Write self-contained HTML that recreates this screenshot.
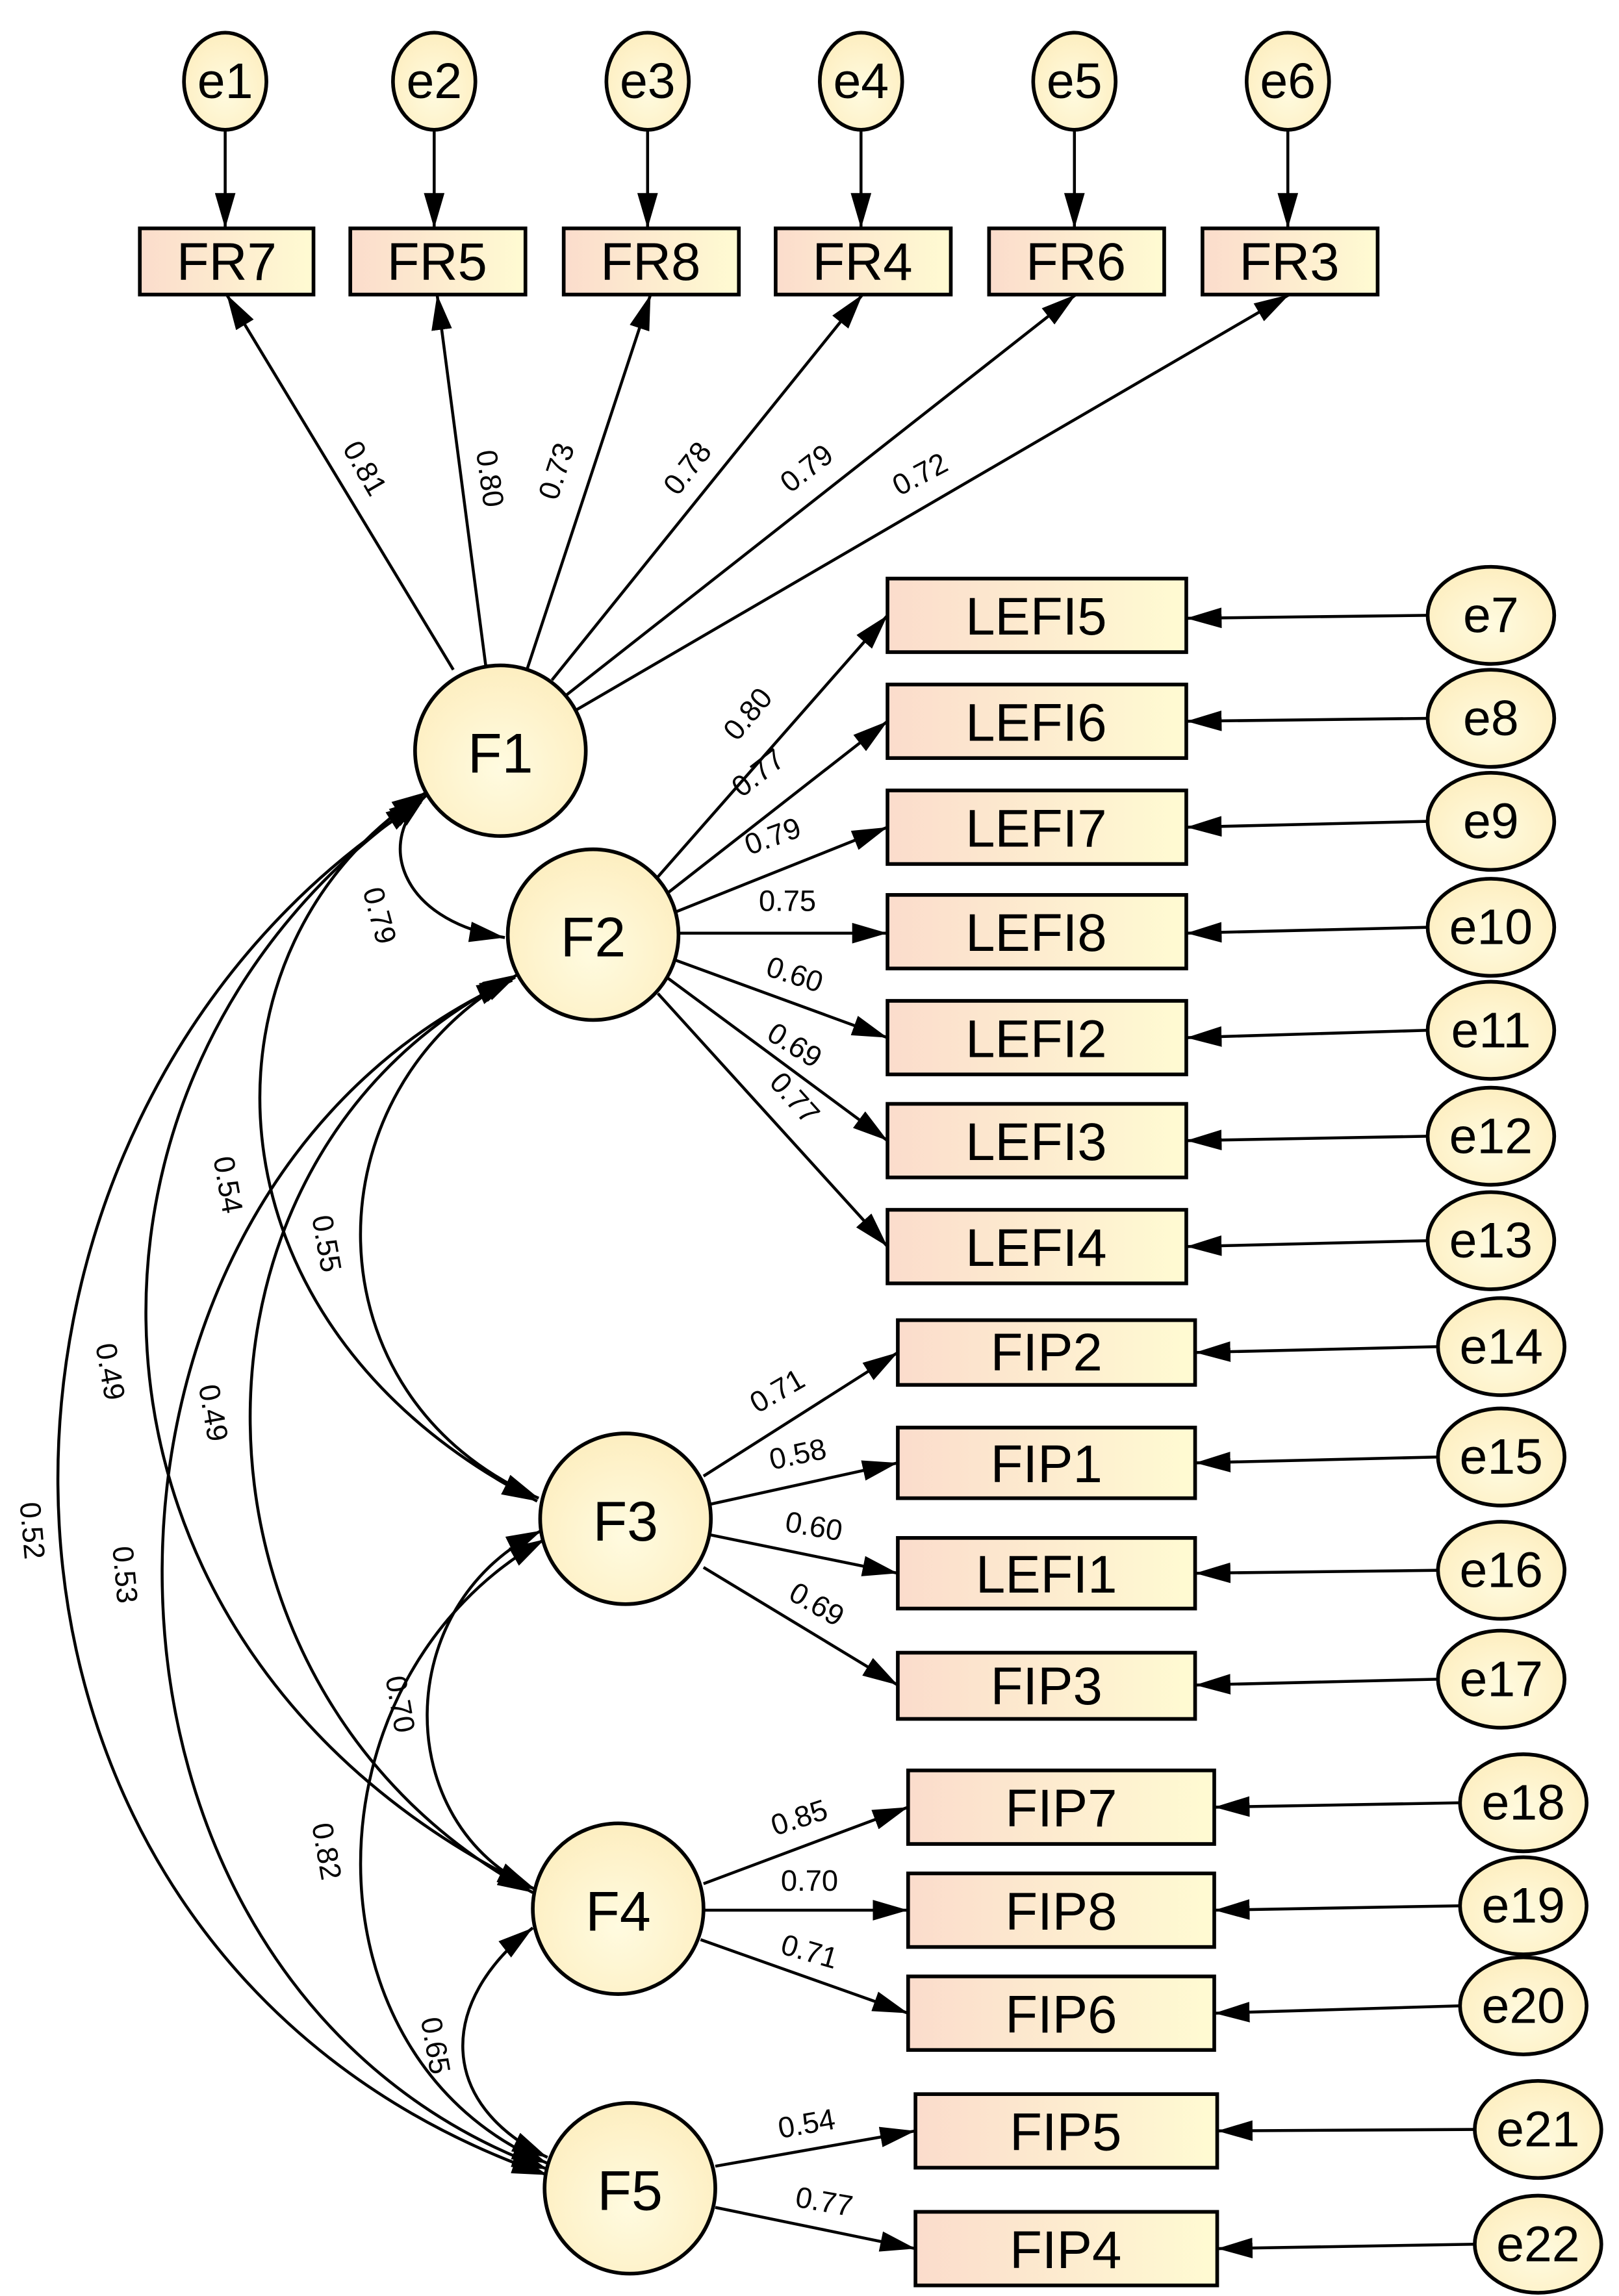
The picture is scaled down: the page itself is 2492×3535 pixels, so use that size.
<!DOCTYPE html>
<html><head><meta charset="utf-8"><style>
html,body{margin:0;padding:0;background:#fff}
svg{display:block}
text{font-family:"Liberation Sans",Arial,sans-serif;fill:#000}
</style></head><body>
<svg width="2492" height="3535" viewBox="0 0 1100 1560" xmlns="http://www.w3.org/2000/svg">
<defs>
<linearGradient id="rg" x1="0" x2="1" y1="0" y2="0"><stop offset="0" stop-color="#fbdccc"/><stop offset="1" stop-color="#fffbd2"/></linearGradient>
<radialGradient id="cg" cx="0.5" cy="0.6" r="0.6"><stop offset="0" stop-color="#fffbe0"/><stop offset="1" stop-color="#fdeec0"/></radialGradient>
<marker id="b" viewBox="0 0 24 14" refX="24" refY="7" markerWidth="24" markerHeight="14" markerUnits="userSpaceOnUse" orient="auto-start-reverse"><path d="M0,0 L24,7 L0,14 z" fill="#000"/></marker>
</defs>
<g stroke="#000" stroke-width="2" fill="none">
<path d="M153,88 V155" marker-end="url(#b)"/><path d="M295,88 V155" marker-end="url(#b)"/><path d="M440,88 V155" marker-end="url(#b)"/><path d="M585,88 V155" marker-end="url(#b)"/><path d="M730,88 V155" marker-end="url(#b)"/><path d="M875,88 V155" marker-end="url(#b)"/>
<path d="M308,455 L154,200" marker-end="url(#b)"/>
<path d="M330,452 L297,200" marker-end="url(#b)"/>
<path d="M358,455 L442,200" marker-end="url(#b)"/>
<path d="M375,462 L586,200" marker-end="url(#b)"/>
<path d="M385,472 L731,200" marker-end="url(#b)"/>
<path d="M392,482 L876,200" marker-end="url(#b)"/>
<path d="M445,598 L603,418" marker-end="url(#b)"/>
<path d="M452,608 L603,490" marker-end="url(#b)"/>
<path d="M458,620 L603,562" marker-end="url(#b)"/>
<path d="M461,634 L603,634" marker-end="url(#b)"/>
<path d="M458,652 L603,705" marker-end="url(#b)"/>
<path d="M453,664 L603,775" marker-end="url(#b)"/>
<path d="M447,675 L603,847" marker-end="url(#b)"/>
<path d="M478,1003 L610,919" marker-end="url(#b)"/>
<path d="M483,1022 L610,994" marker-end="url(#b)"/>
<path d="M483,1043 L610,1069" marker-end="url(#b)"/>
<path d="M478,1065 L610,1145" marker-end="url(#b)"/>
<path d="M478,1280 L617,1228" marker-end="url(#b)"/>
<path d="M478,1298 L617,1298" marker-end="url(#b)"/>
<path d="M476,1318 L617,1368" marker-end="url(#b)"/>
<path d="M486,1472 L622,1448" marker-end="url(#b)"/>
<path d="M486,1500 L622,1528" marker-end="url(#b)"/>
<path d="M970,418 L806,420" marker-end="url(#b)"/>
<path d="M970,488 L806,490" marker-end="url(#b)"/>
<path d="M970,558 L806,562" marker-end="url(#b)"/>
<path d="M970,630 L806,634" marker-end="url(#b)"/>
<path d="M970,700 L806,705" marker-end="url(#b)"/>
<path d="M970,772 L806,775" marker-end="url(#b)"/>
<path d="M970,843 L806,847" marker-end="url(#b)"/>
<path d="M977,915 L812,919" marker-end="url(#b)"/>
<path d="M977,990 L812,994" marker-end="url(#b)"/>
<path d="M977,1067 L812,1069" marker-end="url(#b)"/>
<path d="M977,1141 L812,1145" marker-end="url(#b)"/>
<path d="M992,1225 L825,1228" marker-end="url(#b)"/>
<path d="M992,1295 L825,1298" marker-end="url(#b)"/>
<path d="M992,1363 L825,1368" marker-end="url(#b)"/>
<path d="M1002,1447 L827,1448" marker-end="url(#b)"/>
<path d="M1002,1525 L827,1528" marker-end="url(#b)"/>
<!-- correlations -->
<path d="M290,540 C255,570 270,625 343,637" marker-start="url(#b)" marker-end="url(#b)"/>
<path d="M290,538 C128,640 128,900 365,1020" marker-start="url(#b)" marker-end="url(#b)"/>
<path d="M352,662 C207,740 207,950 366,1018" marker-start="url(#b)" marker-end="url(#b)"/>
<path d="M288,542 C25,720 25,1120 362,1283" marker-start="url(#b)" marker-end="url(#b)"/>
<path d="M350,664 C108,780 108,1150 362,1286" marker-start="url(#b)" marker-end="url(#b)"/>
<path d="M286,545 C-56,760 -56,1330 372,1478" marker-start="url(#b)" marker-end="url(#b)"/>
<path d="M348,666 C27,810 27,1350 372,1474" marker-start="url(#b)" marker-end="url(#b)"/>
<path d="M368,1040 C265,1090 265,1240 364,1284" marker-start="url(#b)" marker-end="url(#b)"/>
<path d="M370,1046 C203,1140 203,1400 372,1470" marker-start="url(#b)" marker-end="url(#b)"/>
<path d="M362,1310 C297,1360 297,1430 372,1466" marker-start="url(#b)" marker-end="url(#b)"/>
</g>
<g stroke="#000" stroke-width="2.5">
<g fill="url(#cg)">
<ellipse cx="153" cy="55" rx="28" ry="33"/><ellipse cx="295" cy="55" rx="28" ry="33"/><ellipse cx="440" cy="55" rx="28" ry="33"/><ellipse cx="585" cy="55" rx="28" ry="33"/><ellipse cx="730" cy="55" rx="28" ry="33"/><ellipse cx="875" cy="55" rx="28" ry="33"/>
<ellipse cx="1013" cy="418" rx="43" ry="33"/><ellipse cx="1013" cy="488" rx="43" ry="33"/><ellipse cx="1013" cy="558" rx="43" ry="33"/><ellipse cx="1013" cy="630" rx="43" ry="33"/><ellipse cx="1013" cy="700" rx="43" ry="33"/><ellipse cx="1013" cy="772" rx="43" ry="33"/><ellipse cx="1013" cy="843" rx="43" ry="33"/>
<ellipse cx="1020" cy="915" rx="43" ry="33"/><ellipse cx="1020" cy="990" rx="43" ry="33"/><ellipse cx="1020" cy="1067" rx="43" ry="33"/><ellipse cx="1020" cy="1141" rx="43" ry="33"/>
<ellipse cx="1035" cy="1225" rx="43" ry="33"/><ellipse cx="1035" cy="1295" rx="43" ry="33"/><ellipse cx="1035" cy="1363" rx="43" ry="33"/>
<ellipse cx="1045" cy="1447" rx="43" ry="33"/><ellipse cx="1045" cy="1525" rx="43" ry="33"/>
<circle cx="340" cy="510" r="58"/><circle cx="403" cy="635" r="58"/><circle cx="425" cy="1032" r="58"/><circle cx="420" cy="1297" r="58"/><circle cx="428" cy="1487" r="58"/>
</g>
<g fill="url(#rg)">
<rect x="95" y="155" width="118" height="45"/><rect x="238" y="155" width="119" height="45"/><rect x="383" y="155" width="119" height="45"/><rect x="527" y="155" width="119" height="45"/><rect x="672" y="155" width="119" height="45"/><rect x="817" y="155" width="119" height="45"/>
<rect x="603" y="393" width="203" height="50"/><rect x="603" y="465" width="203" height="50"/><rect x="603" y="537" width="203" height="50"/><rect x="603" y="608" width="203" height="50"/><rect x="603" y="680" width="203" height="50"/><rect x="603" y="750" width="203" height="50"/><rect x="603" y="822" width="203" height="50"/>
<rect x="610" y="897" width="202" height="44"/><rect x="610" y="970" width="202" height="48"/><rect x="610" y="1045" width="202" height="48"/><rect x="610" y="1123" width="202" height="45"/>
<rect x="617" y="1203" width="208" height="50"/><rect x="617" y="1273" width="208" height="50"/><rect x="617" y="1343" width="208" height="50"/>
<rect x="622" y="1423" width="205" height="50"/><rect x="622" y="1503" width="205" height="50"/>
</g>
</g>
<g font-size="34" text-anchor="middle" dominant-baseline="central">
<text x="153" y="55">e1</text><text x="295" y="55">e2</text><text x="440" y="55">e3</text><text x="585" y="55">e4</text><text x="730" y="55">e5</text><text x="875" y="55">e6</text>
<text x="1013" y="418">e7</text><text x="1013" y="488">e8</text><text x="1013" y="558">e9</text><text x="1013" y="630">e10</text><text x="1013" y="700">e11</text><text x="1013" y="772">e12</text><text x="1013" y="843">e13</text>
<text x="1020" y="915">e14</text><text x="1020" y="990">e15</text><text x="1020" y="1067">e16</text><text x="1020" y="1141">e17</text>
<text x="1035" y="1225">e18</text><text x="1035" y="1295">e19</text><text x="1035" y="1363">e20</text>
<text x="1045" y="1447">e21</text><text x="1045" y="1525">e22</text>
</g>
<g font-size="36" text-anchor="middle" dominant-baseline="central">
<text x="154" y="178">FR7</text><text x="297" y="178">FR5</text><text x="442" y="178">FR8</text><text x="586" y="178">FR4</text><text x="731" y="178">FR6</text><text x="876" y="178">FR3</text>
<text x="704" y="419">LEFI5</text><text x="704" y="491">LEFI6</text><text x="704" y="563">LEFI7</text><text x="704" y="634">LEFI8</text><text x="704" y="706">LEFI2</text><text x="704" y="776">LEFI3</text><text x="704" y="848">LEFI4</text>
<text x="711" y="919">FIP2</text><text x="711" y="995">FIP1</text><text x="711" y="1070">LEFI1</text><text x="711" y="1146">FIP3</text>
<text x="721" y="1229">FIP7</text><text x="721" y="1299">FIP8</text><text x="721" y="1369">FIP6</text>
<text x="724" y="1449">FIP5</text><text x="724" y="1529">FIP4</text>
</g>
<g font-size="38" text-anchor="middle" dominant-baseline="central"><text x="340" y="512">F1</text><text x="403" y="637">F2</text><text x="425" y="1034">F3</text><text x="420" y="1299">F4</text><text x="428" y="1489">F5</text></g>
<g font-size="20" text-anchor="middle" dominant-baseline="central">
<text transform="translate(248,318) rotate(60)">0.81</text>
<text transform="translate(333,325) rotate(82)">0.80</text>
<text transform="translate(378,320) rotate(-72)">0.73</text>
<text transform="translate(467,318) rotate(-52)">0.78</text>
<text transform="translate(548,318) rotate(-38)">0.79</text>
<text transform="translate(625,322) rotate(-28)">0.72</text>
<text transform="translate(508,485) rotate(-50)">0.80</text>
<text transform="translate(515,525) rotate(-38)">0.77</text>
<text transform="translate(525,568) rotate(-20)">0.79</text>
<text transform="translate(535,612) rotate(0)">0.75</text>
<text transform="translate(540,662) rotate(18)">0.60</text>
<text transform="translate(540,710) rotate(32)">0.69</text>
<text transform="translate(540,746) rotate(48)">0.77</text>
<text transform="translate(528,945) rotate(-30)">0.71</text>
<text transform="translate(542,988) rotate(-12)">0.58</text>
<text transform="translate(553,1037) rotate(10)">0.60</text>
<text transform="translate(555,1090) rotate(30)">0.69</text>
<text transform="translate(543,1235) rotate(-18)">0.85</text>
<text transform="translate(550,1278) rotate(0)">0.70</text>
<text transform="translate(550,1326) rotate(16)">0.71</text>
<text transform="translate(548,1443) rotate(-10)">0.54</text>
<text transform="translate(560,1496) rotate(10)">0.77</text>
<text transform="translate(258,622) rotate(75)">0.79</text>
<text transform="translate(155,805) rotate(80)">0.54</text>
<text transform="translate(222,845) rotate(80)">0.55</text>
<text transform="translate(75,932) rotate(80)">0.49</text>
<text transform="translate(145,960) rotate(80)">0.49</text>
<text transform="translate(22,1040) rotate(85)">0.52</text>
<text transform="translate(85,1070) rotate(85)">0.53</text>
<text transform="translate(272,1158) rotate(80)">0.70</text>
<text transform="translate(222,1258) rotate(80)">0.82</text>
<text transform="translate(296,1390) rotate(80)">0.65</text>
</g>
</svg>
</body></html>
